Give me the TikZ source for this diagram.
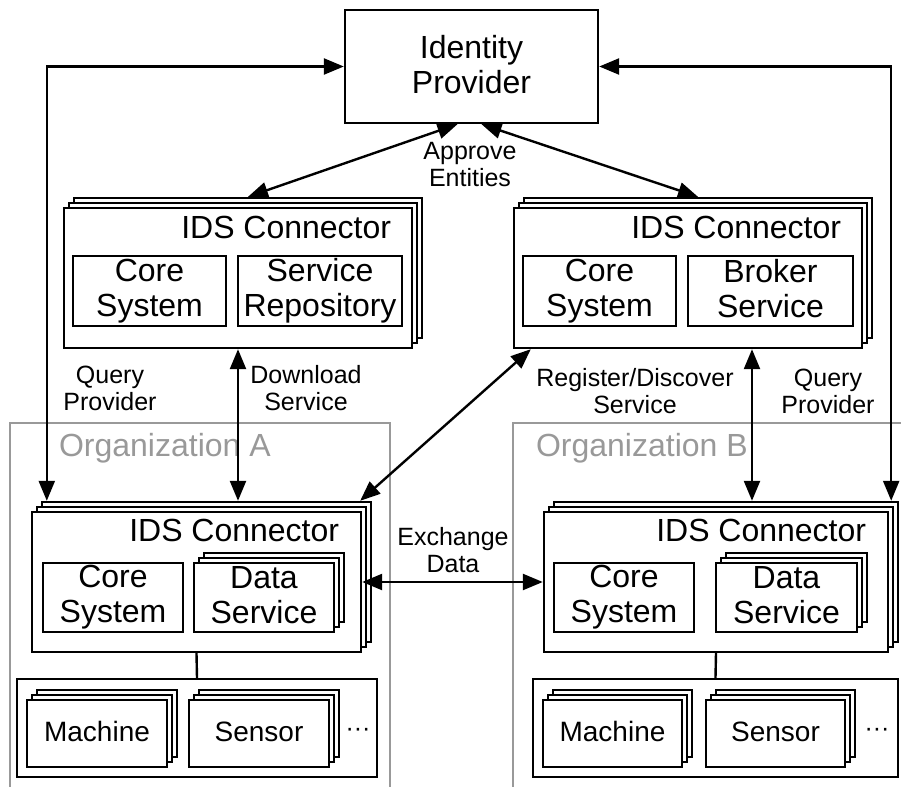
\documentclass[tikz,border=0pt]{standalone}
\usepackage{fontspec}
\setmainfont{Liberation Sans}
\usetikzlibrary{arrows.meta,shadows}

\newcommand\boxstrut{\rule[-2.5pt]{0pt}{13pt}}

\tikzset{
  box/.style={draw, line width=1.2pt, fill=white, inner sep=0pt, align=center,
    execute at begin node=\boxstrut, execute at end node=\boxstrut},
  stack/.style={box,
    copy shadow={shadow xshift=5pt,shadow yshift=5pt,line width=1.2pt},
    copy shadow={shadow xshift=2.5pt,shadow yshift=2.5pt,line width=1.2pt}},
  big/.style={font=\fontsize{16}{17.5}\selectfont},
  small/.style={font=\fontsize{12.5}{13.5}\selectfont, align=center},
  dev/.style={font=\fontsize{14}{16}\selectfont},
  conn/.style={line width=1.2pt, {Triangle[length=10pt,width=8pt]}-{Triangle[length=10pt,width=8pt]}},
  org/.style={draw=black!40, line width=1.1pt},
}

\begin{document}
\begin{tikzpicture}[x=0.5pt,y=-0.5pt]
  \useasboundingbox (0,0) rectangle (901,787);

  % organizations
  \draw[org] (10,800) |- (390,423) -- (390,800);
  \draw[org] (513,800) |- (910,423);
  \node[big, text=black!40, anchor=base west] (orgA) at (52,456) {Organization A};
  \node[big, text=black!40, anchor=base west] (orgB) at (529,456) {Organization B};

  \node[box, big, minimum width=126.5pt, minimum height=56.5pt] (idp) at (471.5,66.5) {Identity\\Provider};

  % connectors of the broker and the app store
  \node[stack, minimum width=174pt, minimum height=70pt] (ta) at (238,278) {};
  \node[big, anchor=base east] (ta title) at ([xshift=-7.5pt,yshift=-16pt]ta.north east) {IDS Connector};
  \node[box, big, minimum width=76.5pt, minimum height=35pt] (ta core) at (149.5,291) {Core\\System};
  \node[box, big, minimum width=82pt, minimum height=35pt] (ta repo) at (320,291) {Service\\Repository};

  \node[stack, minimum width=174pt, minimum height=70pt] (tb) at (688,278) {};
  \node[big, anchor=base east] (tb title) at ([xshift=-7.5pt,yshift=-16pt]tb.north east) {IDS Connector};
  \node[box, big, minimum width=76.5pt, minimum height=35pt] (tb core) at (599.5,291) {Core\\System};
  \node[box, big, minimum width=82.5pt, minimum height=35pt] (tb broker) at (770.5,291) {Broker\\Service};

  % connectors of the organizations
  \node[stack, minimum width=164.5pt, minimum height=70pt] (ca) at (196.5,582) {};
  \node[big, anchor=base east] (ca title) at ([xshift=-8pt,yshift=-15.5pt]ca.north east) {IDS Connector};
  \node[box, big, minimum width=70pt, minimum height=34.5pt] (ca core) at (113,597.5) {Core\\System};
  \node[stack, big, minimum width=70pt, minimum height=34.5pt] (ca data) at (264,597.5) {Data\\Service};

  \node[stack, minimum width=172pt, minimum height=70pt] (cb) at (716,582) {};
  \node[big, anchor=base east] (cb title) at ([xshift=-8pt,yshift=-15.5pt]cb.north east) {IDS Connector};
  \node[box, big, minimum width=70pt, minimum height=34.5pt] (cb core) at (624,597.5) {Core\\System};
  \node[stack, big, minimum width=70.5pt, minimum height=34.5pt] (cb data) at (786.5,597.5) {Data\\Service};

  % devices
  \node[box, minimum width=180pt, minimum height=49pt] (dA) at (197,728) {};
  \node[stack, dev, minimum width=70pt, minimum height=33.5pt] (mA) at (97,733.5) {Machine};
  \node[stack, dev, minimum width=70pt, minimum height=33.5pt] (sA) at (259,733.5) {Sensor};
  \node[small, anchor=base] (moreA) at (358,736) {\textperiodcentered\textperiodcentered\textperiodcentered};

  \node[box, minimum width=182.5pt, minimum height=49pt] (dB) at (715.5,728) {};
  \node[stack, dev, minimum width=69.5pt, minimum height=33.5pt] (mB) at (612.5,733.5) {Machine};
  \node[stack, dev, minimum width=69.5pt, minimum height=33.5pt] (sB) at (775.5,733.5) {Sensor};
  \node[small, anchor=base] (moreB) at (877,736) {\textperiodcentered\textperiodcentered\textperiodcentered};

  % arrows
  \coordinate (ca top) at ([yshift=5pt]ca.north);
  \coordinate (cb top) at ([yshift=5pt]cb.north);
  \coordinate (brk) at ([xshift=32pt]tb.south);

  \draw[conn] (idp.west) -| ([xshift=8pt,yshift=5pt]ca.north west);
  \draw[conn] (idp.east) -| ([xshift=1pt,yshift=5pt]cb.north east);
  \draw[conn] ([xshift=-7pt]idp.south) -- ([xshift=5pt,yshift=5pt]ta.north);
  \draw[conn] ([xshift=5pt]idp.south) -- ([xshift=5pt,yshift=5pt]tb.north);
  \draw[conn] (ta.south) -- (ta.south |- ca top);
  \draw[conn] ([xshift=9pt]tb.south west) -- ([xshift=-1pt,yshift=5pt]ca.north east);
  \draw[conn] (brk) -- (brk |- cb top);
  \draw[conn] (ca.east) -- (cb.west);
  \draw[line width=1.2pt] (ca.south) -- (dA.north);
  \draw[line width=1.2pt] (cb.south) -- (dB.north);

  % labels
  \node[small] (approve) at (470,165) {Approve\\Entities};
  \node[small] (queryA) at (110,388) {Query\\Provider};
  \node[small] (download) at (306,388) {Download\\Service};
  \node[small] (register) at (635,391) {Register/Discover\\Service};
  \node[small] (queryB) at (828,391) {Query\\Provider};
  \node[small] (exchange) at (453,550) {Exchange\\Data};
\end{tikzpicture}
\end{document}
